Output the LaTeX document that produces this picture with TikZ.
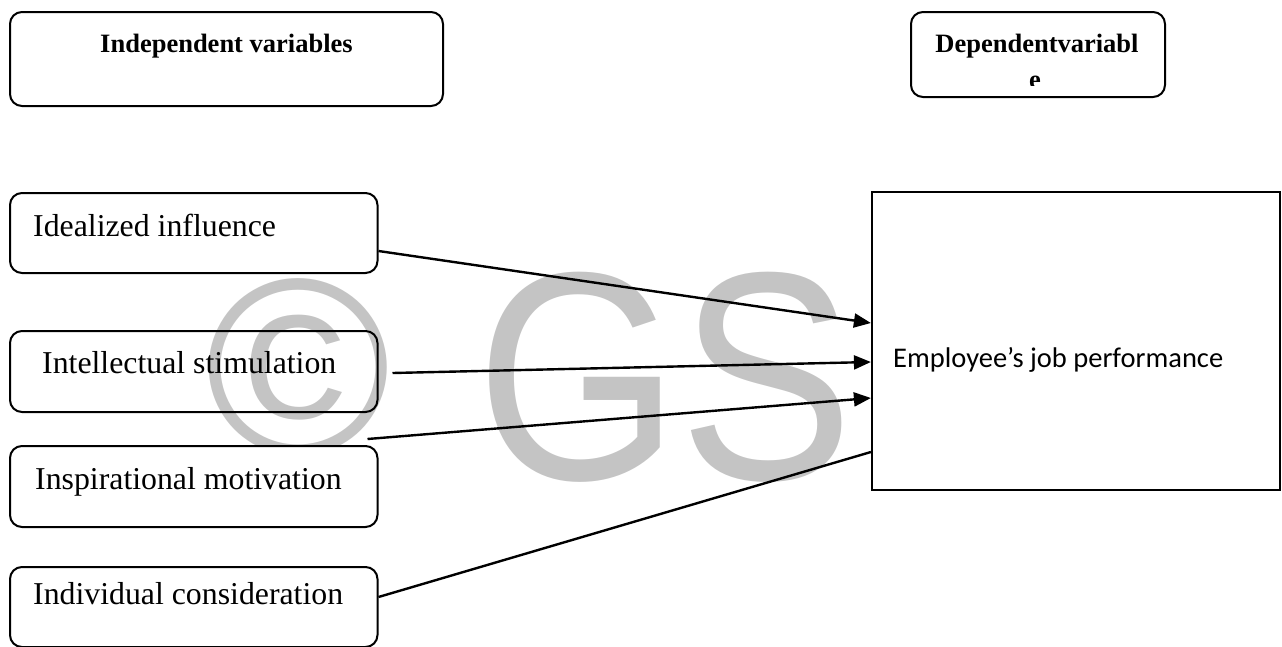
\documentclass[tikz,border=0pt]{standalone}
\usepackage{fontspec}
\setmainfont{Liberation Serif}
\newfontfamily\calibrifont{Carlito}
\newfontfamily\wmfont{Liberation Sans}
\newfontfamily\wmnarrow[FakeStretch=0.88]{Liberation Sans}
\usetikzlibrary{arrows.meta}
\begin{document}
\begin{tikzpicture}[x=1pt,y=1pt,
  rbox/.style={draw, line width=2pt, rounded corners=12pt, inner sep=0pt},
  sbox/.style={draw, line width=2.2pt, fill=white, inner sep=0pt},
  lbl/.style={anchor=base west, inner sep=0pt, font=\fontsize{31.8}{36}\selectfont},
  head/.style={anchor=base, inner sep=0pt, font=\bfseries\fontsize{26.5}{30}\selectfont},
  wmark/.style={anchor=base west, inner sep=0pt, text=black!23},
  conn/.style={line width=2.4pt},
  arr/.style={conn, -{Triangle[length=17pt,width=14pt]}}]
\useasboundingbox (0,0) rectangle (1282,-646);
% watermark (behind; hidden by the lower box and the dependent box)
\begin{scope}[even odd rule, rounded corners=12pt]
  \clip (-50,50) rectangle (1332,-696)
    (10,-446) rectangle (377.5,-527)
    (872,-192) rectangle (1280,-490);
  \node[wmark] (wmC) at (205,-454) {\wmfont\fontsize{252}{252}\selectfont ©};
  \node[wmark] (wmG) at (476,-479.5) {\wmnarrow\fontsize{297}{297}\selectfont GS};
\end{scope}
% header boxes
\node[rbox, minimum width=433pt, minimum height=94pt] (indep) at (226.5,-59) {};
\node[head] (indepT) at (226.5,-52) {Independent variables};
\node[rbox, minimum width=254pt, minimum height=85pt] (dep) at (1038,-54.5) {};
\node[head] (depT) at (1037,-52) {Dependentvariabl};
\begin{scope}
  \clip (1000,-70) rectangle (1080,-85);
  \node[head] (depE) at (1035,-88) {e};
\end{scope}
% independent variable boxes
\node[rbox, minimum width=367.5pt, minimum height=80pt] (ideal) at (193.75,-233) {};
\node[lbl] (idealT) at (33,-236) {Idealized influence};
\node[rbox, minimum width=367.5pt, minimum height=81pt] (intel) at (193.75,-371.5) {};
\node[lbl] (intelT) at (42,-373) {Intellectual stimulation};
\node[rbox, minimum width=367.5pt, minimum height=81pt] (insp) at (193.75,-486.5) {};
\node[lbl] (inspT) at (35,-489) {Inspirational motivation};
\node[rbox, minimum width=367.5pt, minimum height=80pt] (indiv) at (193.75,-607) {};
\node[lbl] (indivT) at (33,-604) {Individual consideration};
% dependent variable box
\node[sbox, minimum width=408pt, minimum height=298pt] (perf) at (1076,-341) {};
\node[anchor=base west, inner sep=0pt, font=\calibrifont\fontsize{28.5}{32}\selectfont] (perfT) at (893,-367) {Employee’s job performance};
% connectors
\draw[arr] ([yshift=-18pt]ideal.east) -- ([yshift=18pt]perf.west);
\draw[arr] ([xshift=14pt,yshift=-1.5pt]intel.east) -- ([yshift=-21pt]perf.west);
\draw[arr] ([xshift=-11pt,yshift=6pt]insp.north east) -- ([yshift=-57pt]perf.west);
\draw[conn] ([yshift=10pt]indiv.east) -- ([yshift=-111pt]perf.west);
\end{tikzpicture}
\end{document}
